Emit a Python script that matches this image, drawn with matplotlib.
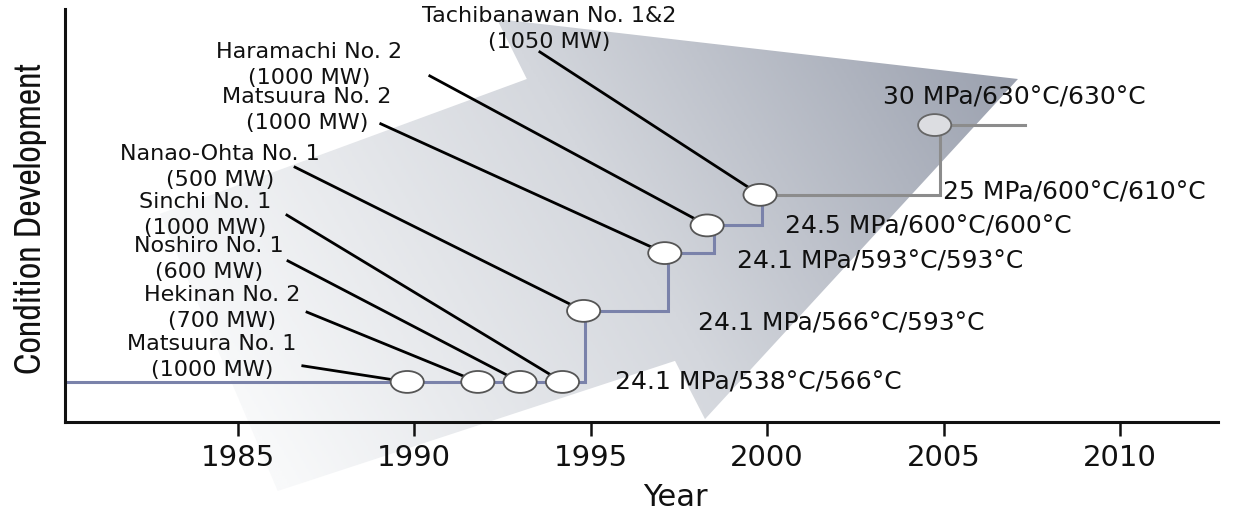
import numpy as np
import matplotlib
matplotlib.use('Agg')
import matplotlib.pyplot as plt
from matplotlib.patches import Ellipse, Polygon
from matplotlib.colors import LinearSegmentedColormap
from matplotlib import font_manager

# --- data ---------------------------------------------------------------
plants = ['Matsuura No. 1', 'Hekinan No. 2', 'Noshiro No. 1', 'Sinchi No. 1',
          'Nanao-Ohta No. 1', 'Matsuura No. 2', 'Haramachi No. 2',
          'Tachibanawan No. 1&2']
capacity = ['(1000 MW)', '(700 MW)', '(600 MW)', '(1000 MW)', '(500 MW)',
            '(1000 MW)', '(1000 MW)', '(1050 MW)']
plant_year = [1989.8, 1991.8, 1993.0, 1994.2, 1994.8, 1997.1, 1998.3, 1999.8]
plant_level = [9.7, 9.7, 9.7, 9.7, 26.9, 40.9, 47.6, 55.0]

conditions = ['24.1 MPa/538°C/566°C', '24.1 MPa/566°C/593°C',
              '24.1 MPa/593°C/593°C', '24.5 MPa/600°C/600°C',
              '25 MPa/600°C/610°C', '30 MPa/630°C/630°C']

# achieved steam conditions (step line) and the target
step_year = [1980.1, 1994.85, 1994.85, 1997.2, 1997.2, 1998.5, 1998.5, 1999.85, 1999.85]
step_level = [9.7, 9.7, 26.9, 26.9, 40.9, 40.9, 47.6, 47.6, 55.0]
future_year = [1999.85, 2004.9, 2004.9, 2007.3]
future_level = [55.0, 55.0, 71.9, 71.9]
target_year = 2004.75
target_level = 71.9

years = [1985, 1990, 1995, 2000, 2005, 2010]

# --- layout (label / leader positions) ------------------------------------
label_x = [1984.26, 1984.55, 1984.18, 1984.07, 1984.49, 1986.96, 1987.03, 1993.82]
label_y = [16.0, 27.8, 39.7, 50.4, 62.0, 75.8, 86.7, 95.4]
lead_x = [1986.84, 1986.96, 1986.42, 1986.39, 1986.62, 1989.05, 1990.44, 1993.56]
lead_y = [13.6, 26.6, 39.0, 50.1, 61.7, 72.2, 83.8, 89.6]
cond_x = [1995.69, 1998.04, 1999.14, 2000.5, 2004.98, 2003.28]
cond_y = [9.7, 24.2, 39.0, 47.5, 55.9, 78.7]

# background arrow outline
arrow_x = [1982.79, 1993.19, 1992.34, 2007.11, 1998.24, 1997.39, 1986.13]
arrow_y = [50.4, 83.05, 97.6, 83.05, 0.7, 14.8, -16.7]

xlim = (1980.1, 2012.78)
ylim = (0, 100)

fig = plt.figure(figsize=(12.47, 5.10), dpi=100)
pos = [65 / 1247, 87 / 510, 1153 / 1247, 413 / 510]

# background axes on the whole figure, same data coordinates as main axes
bg = fig.add_axes([0, 0, 1, 1], zorder=0)
bg.axis('off')
xr = (xlim[1] - xlim[0]) / pos[2]
yr = (ylim[1] - ylim[0]) / pos[3]
bg.set_xlim(xlim[0] - pos[0] * xr, xlim[0] + (1 - pos[0]) * xr)
bg.set_ylim(ylim[0] - pos[1] * yr, ylim[0] + (1 - pos[1]) * yr)

arrow = Polygon(np.column_stack([arrow_x, arrow_y]), closed=True,
                facecolor='none', edgecolor='none')
bg.add_patch(arrow)
gx = np.linspace(1982, 2008, 400)
gy = np.linspace(-20, 100, 300)
GX, GY = np.meshgrid(gx, gy)
shade = (GX - 1986) * 0.0414 + (GY + 10) * 0.00284
cmap = LinearSegmentedColormap.from_list('arrow', ['#f8f9fa', '#d4d7dd', '#9aa0ae'])
im = bg.imshow(shade, extent=(1982, 2008, -20, 100), origin='lower', cmap=cmap,
               vmin=0, vmax=1.15, aspect='auto', interpolation='bilinear')
im.set_clip_path(arrow)

# main axes
ax = fig.add_axes(pos, zorder=1)
ax.patch.set_visible(False)

ax.plot(step_year, step_level, color='#7a82aa', lw=2.2, zorder=2, solid_joinstyle='miter')
ax.plot(future_year, future_level, color='#8c8c8c', lw=2.2, zorder=2, solid_joinstyle='miter')

for i in range(len(plants)):
    ax.plot([lead_x[i], plant_year[i]], [lead_y[i], plant_level[i]],
            color='black', lw=2.0, zorder=3)
    ax.text(label_x[i], label_y[i], plants[i] + '\n' + capacity[i],
            ha='center', va='center', fontsize=16, linespacing=1.35,
            color='#111111', zorder=5)
    ax.add_patch(Ellipse((plant_year[i], plant_level[i]), 0.94, 5.3,
                         facecolor='white', edgecolor='#555555', lw=1.3, zorder=4))

ax.add_patch(Ellipse((target_year, target_level), 0.94, 5.3,
                     facecolor='#dcdde1', edgecolor='#666666', lw=1.3, zorder=4))

for i in range(len(conditions)):
    ax.text(cond_x[i], cond_y[i], conditions[i], ha='left', va='center',
            fontsize=18, color='#111111', zorder=5)

ax.set_xlim(xlim)
ax.set_ylim(ylim)
ax.set_xticks(years)
ax.set_yticks([])
ax.tick_params(axis='x', length=10, width=1.8, labelsize=21, pad=5, colors='#111111')
for s in ['top', 'right']:
    ax.spines[s].set_visible(False)
for s in ['left', 'bottom']:
    ax.spines[s].set_linewidth(2.2)
    ax.spines[s].set_color('#111111')

ax.set_xlabel('Year', fontsize=22, color='#111111')
ax.xaxis.set_label_coords(0.529, -0.145)

# narrow face for the y label if one is installed
names = {f.name for f in font_manager.fontManager.ttflist}
if 'Archivo Narrow' in names:
    ax.set_ylabel('Condition Development', fontsize=26, family='Archivo Narrow', color='#111111')
else:
    ax.set_ylabel('Condition Development', fontsize=19, color='#111111')
ax.yaxis.set_label_coords(-0.016, 0.495)

plt.savefig('out.png', dpi=100)
